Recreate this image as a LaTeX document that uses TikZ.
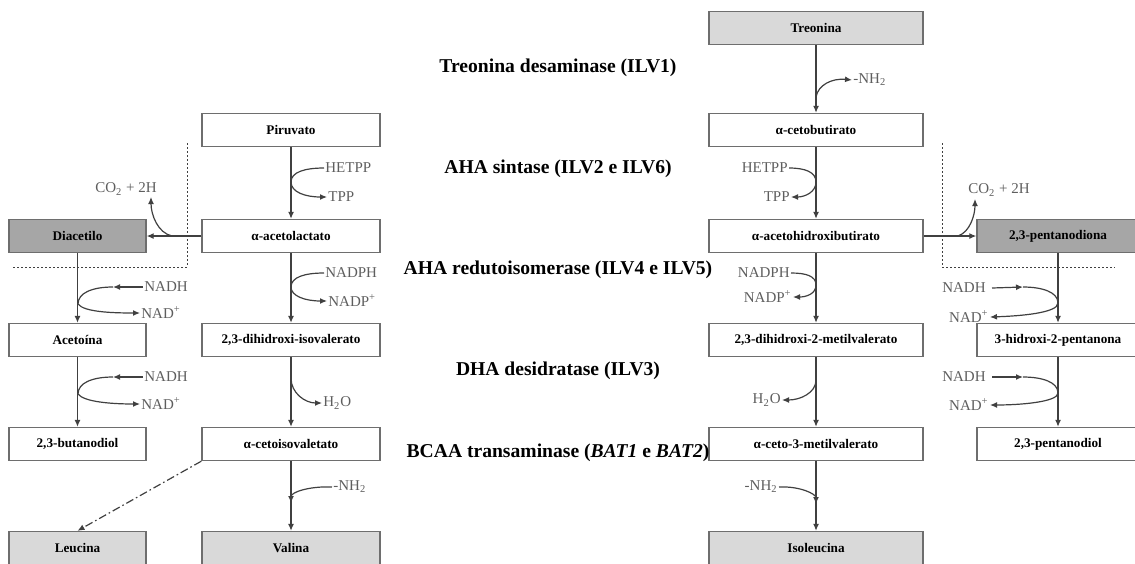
\documentclass[tikz,border=0pt]{standalone}
\usepackage{fontspec}
\setmainfont{Liberation Serif}
\usetikzlibrary{arrows.meta}
\definecolor{boxline}{HTML}{6E6E6E}
\definecolor{flowline}{HTML}{404040}
\definecolor{sidetext}{HTML}{5E5E5E}
\definecolor{aminofill}{HTML}{D9D9D9}
\definecolor{dionafill}{HTML}{A6A6A6}
\tikzset{
  met/.style={draw=boxline, line width=0.7pt, fill=white, minimum height=16.5pt,
    inner sep=0pt, font=\bfseries\fontsize{6.6}{8}\selectfont},
  colA/.style={met, minimum width=68.5pt},
  colB/.style={met, minimum width=89pt},
  colC/.style={met, minimum width=107pt},
  colD/.style={met, minimum width=81pt},
  amino/.style={fill=aminofill},
  diona/.style={fill=dionafill},
  enzyme/.style={font=\bfseries\fontsize{9.8}{11}\selectfont},
  side/.style={text=sidetext, inner sep=0.5pt, font=\fontsize{7.5}{9}\selectfont},
  flow/.style={draw=flowline, line width=0.6pt, -{Latex[length=3.5pt,width=3pt]}},
  curve/.style={draw=flowline, line width=0.6pt},
  sideflow/.style={curve, -{Latex[length=3.5pt,width=3pt]}},
  limit/.style={draw=flowline, line width=0.5pt, dash pattern=on 1pt off 1pt},
}
\begin{document}
\begin{tikzpicture}[x=0.5pt,y=-0.5pt]
\useasboundingbox (0,0) rectangle (1135,563);
% metabolites
\node[colA,diona] (diacetilo) at (77.5,236) {Diacetilo};
\node[colA] (acetoina) at (77.5,340) {Acetoína};
\node[colA] (butanodiol) at (77.5,444) {2,3-butanodiol};
\node[colA,amino] (leucina) at (77.5,548) {Leucina};
\node[colB] (piruvato) at (291,130) {Piruvato};
\node[colB] (acetolac) at (291,236) {α-acetolactato};
\node[colB] (dhiv) at (291,340) {2,3-dihidroxi-isovalerato};
\node[colB] (cetoiso) at (291,444) {α-cetoisovaletato};
\node[colB,amino] (valina) at (291,548) {Valina};
\node[colC,amino] (treonina) at (816,28) {Treonina};
\node[colC] (cetobut) at (816,130) {α-cetobutirato};
\node[colC] (acetohid) at (816,236) {α-acetohidroxibutirato};
\node[colC] (dhmv) at (816,340) {2,3-dihidroxi-2-metilvalerato};
\node[colC] (cetomv) at (816,444) {α-ceto-3-metilvalerato};
\node[colC,amino] (isoleucina) at (816,548) {Isoleucina};
\node[colD,diona] (pentanodiona) at (1058,236) {2,3-pentanodiona};
\node[colD] (hidroxipent) at (1058,340) {3-hidroxi-2-pentanona};
\node[colD] (pentanodiol) at (1058,444) {2,3-pentanodiol};
% enzymes
\node[enzyme] (ilv1) at (558,68) {Treonina desaminase (ILV1)};
\node[enzyme] (ilv26) at (558,169) {AHA sintase (ILV2 e ILV6)};
\node[enzyme] (ilv45) at (558,270) {AHA redutoisomerase (ILV4 e ILV5)};
\node[enzyme] (ilv3) at (558,371) {DHA desidratase (ILV3)};
\node[enzyme] (bat) at (558,453) {BCAA transaminase (\textit{BAT1} e \textit{BAT2})};
% main steps
\draw[flow] (diacetilo) -- (acetoina);
\draw[flow] (acetoina) -- (butanodiol);
\draw[flow] (piruvato) -- (acetolac);
\draw[flow] (acetolac) -- (dhiv);
\draw[flow] (dhiv) -- (cetoiso);
\draw[flow] (cetoiso) -- (valina);
\draw[flow] (treonina) -- (cetobut);
\draw[flow] (cetobut) -- (acetohid);
\draw[flow] (acetohid) -- (dhmv);
\draw[flow] (dhmv) -- (cetomv);
\draw[flow] (cetomv) -- (isoleucina);
\draw[flow] (pentanodiona) -- (hidroxipent);
\draw[flow] (hidroxipent) -- (pentanodiol);
\draw[flow] (acetolac) -- (diacetilo);
\draw[flow] (acetohid) -- (pentanodiona);
\draw[flow, dash pattern=on 4pt off 1.5pt on 0.8pt off 1.5pt] (cetoiso.south west) -- (leucina.north);
% spontaneous decarboxylation
\coordinate (forkL) at (172,236);
\coordinate (forkR) at (958,236);
\node[side] (co2L) at (126,189) {CO\textsubscript{2} + 2H};
\node[side] (co2R) at (999,190) {CO\textsubscript{2} + 2H};
\draw[sideflow] (forkL) .. controls (158,233) and (151,215) .. (151,197);
\draw[sideflow] (forkR) .. controls (970,232) and (975,215) .. (975,199);
\draw[limit] (187,143) -- (187,267) -- (13,267);
\draw[limit] (942,143) -- (942,267) -- (1115,267);
% cofactors, valine side
\node[side,anchor=west] (hetppB) at (324,168) {HETPP};
\node[side,anchor=west] (tppB) at (327,197) {TPP};
\coordinate (kB1) at (291,182);
\draw[sideflow] (hetppB.west) .. controls (305,168) and (291,172) .. (kB1) .. controls (291,192) and (305,197) .. (tppB.west);
\node[side,anchor=west] (nadphB) at (324,273) {NADPH};
\node[side,anchor=west] (nadpB) at (327,301) {NADP\textsuperscript{+}};
\coordinate (kB2) at (291,287);
\draw[sideflow] (nadphB.west) .. controls (305,273) and (291,277) .. (kB2) .. controls (291,296) and (305,301) .. (nadpB.west);
\coordinate (kB3) at (291,378);
\node[side,anchor=west] (h2oB) at (322,403) {H\textsubscript{2}O};
\draw[sideflow] (kB3) .. controls (291,393) and (305,403) .. (h2oB.west);
\node[side,anchor=west] (nh2B) at (332,487) {-NH\textsubscript{2}};
\coordinate (kB4) at (291,503);
\draw[sideflow] (nh2B.west) .. controls (310,486) and (291,492) .. (kB4);
% cofactors, acetoin side
\node[side,anchor=west] (nadhA1) at (143,287) {NADH};
\node[side,anchor=west] (nadA1) at (140,313) {NAD\textsuperscript{+}};
\coordinate (mA1) at (113,287);
\coordinate (kA1) at (78,304);
\draw[sideflow] (nadhA1.west) -- (mA1);
\draw[sideflow] (mA1) .. controls (92,287) and (78,293) .. (kA1) .. controls (84,312) and (112,313) .. (nadA1.west);
\node[side,anchor=west] (nadhA2) at (143,377) {NADH};
\node[side,anchor=west] (nadA2) at (140,404) {NAD\textsuperscript{+}};
\coordinate (mA2) at (113,377);
\coordinate (kA2) at (78,394);
\draw[sideflow] (nadhA2.west) -- (mA2);
\draw[sideflow] (mA2) .. controls (92,377) and (78,383) .. (kA2) .. controls (84,402) and (112,404) .. (nadA2.west);
% cofactors, isoleucine side
\node[side,anchor=west] (nh2C) at (852,80) {-NH\textsubscript{2}};
\coordinate (kC0) at (816,97);
\draw[sideflow] (kC0) .. controls (818,85) and (832,78) .. (nh2C.west);
\node[side,anchor=east] (hetppC) at (789,168) {HETPP};
\node[side,anchor=east] (tppC) at (791,197) {TPP};
\coordinate (kC1) at (816,182);
\draw[sideflow] (hetppC.east) .. controls (805,168) and (816,172) .. (kC1) .. controls (816,192) and (805,197) .. (tppC.east);
\node[side,anchor=east] (nadphC) at (791,273) {NADPH};
\node[side,anchor=east] (nadpC) at (793,297) {NADP\textsuperscript{+}};
\coordinate (kC2) at (816,285);
\draw[sideflow] (nadphC.east) .. controls (806,273) and (816,276) .. (kC2) .. controls (816,294) and (806,297) .. (nadpC.east);
\coordinate (kC3) at (816,380);
\node[side,anchor=east] (h2oC) at (782,400) {H\textsubscript{2}O};
\draw[sideflow] (kC3) .. controls (816,393) and (800,400) .. (h2oC.east);
\node[side,anchor=east] (nh2C2) at (779,487) {-NH\textsubscript{2}};
\coordinate (kC4) at (816,504);
\draw[sideflow] (nh2C2.east) .. controls (800,486) and (816,494) .. (kC4);
% cofactors, pentanediol side
\node[side,anchor=east] (nadhD1) at (987,288) {NADH};
\node[side,anchor=east] (nadD1) at (990,317) {NAD\textsuperscript{+}};
\coordinate (mD1) at (1023,287);
\coordinate (kD1) at (1058,303);
\draw[sideflow] (nadhD1.east) ++(5,0) -- (mD1);
\draw[sideflow] (mD1) .. controls (1042,287) and (1058,292) .. (kD1) .. controls (1058,313) and (1020,316) .. (nadD1.east);
\node[side,anchor=east] (nadhD2) at (987,377) {NADH};
\node[side,anchor=east] (nadD2) at (990,405) {NAD\textsuperscript{+}};
\coordinate (mD2) at (1023,377);
\coordinate (kD2) at (1058,393);
\draw[sideflow] (nadhD2.east) ++(5,0) -- (mD2);
\draw[sideflow] (mD2) .. controls (1042,377) and (1058,382) .. (kD2) .. controls (1058,402) and (1020,405) .. (nadD2.east);
\end{tikzpicture}
\end{document}
